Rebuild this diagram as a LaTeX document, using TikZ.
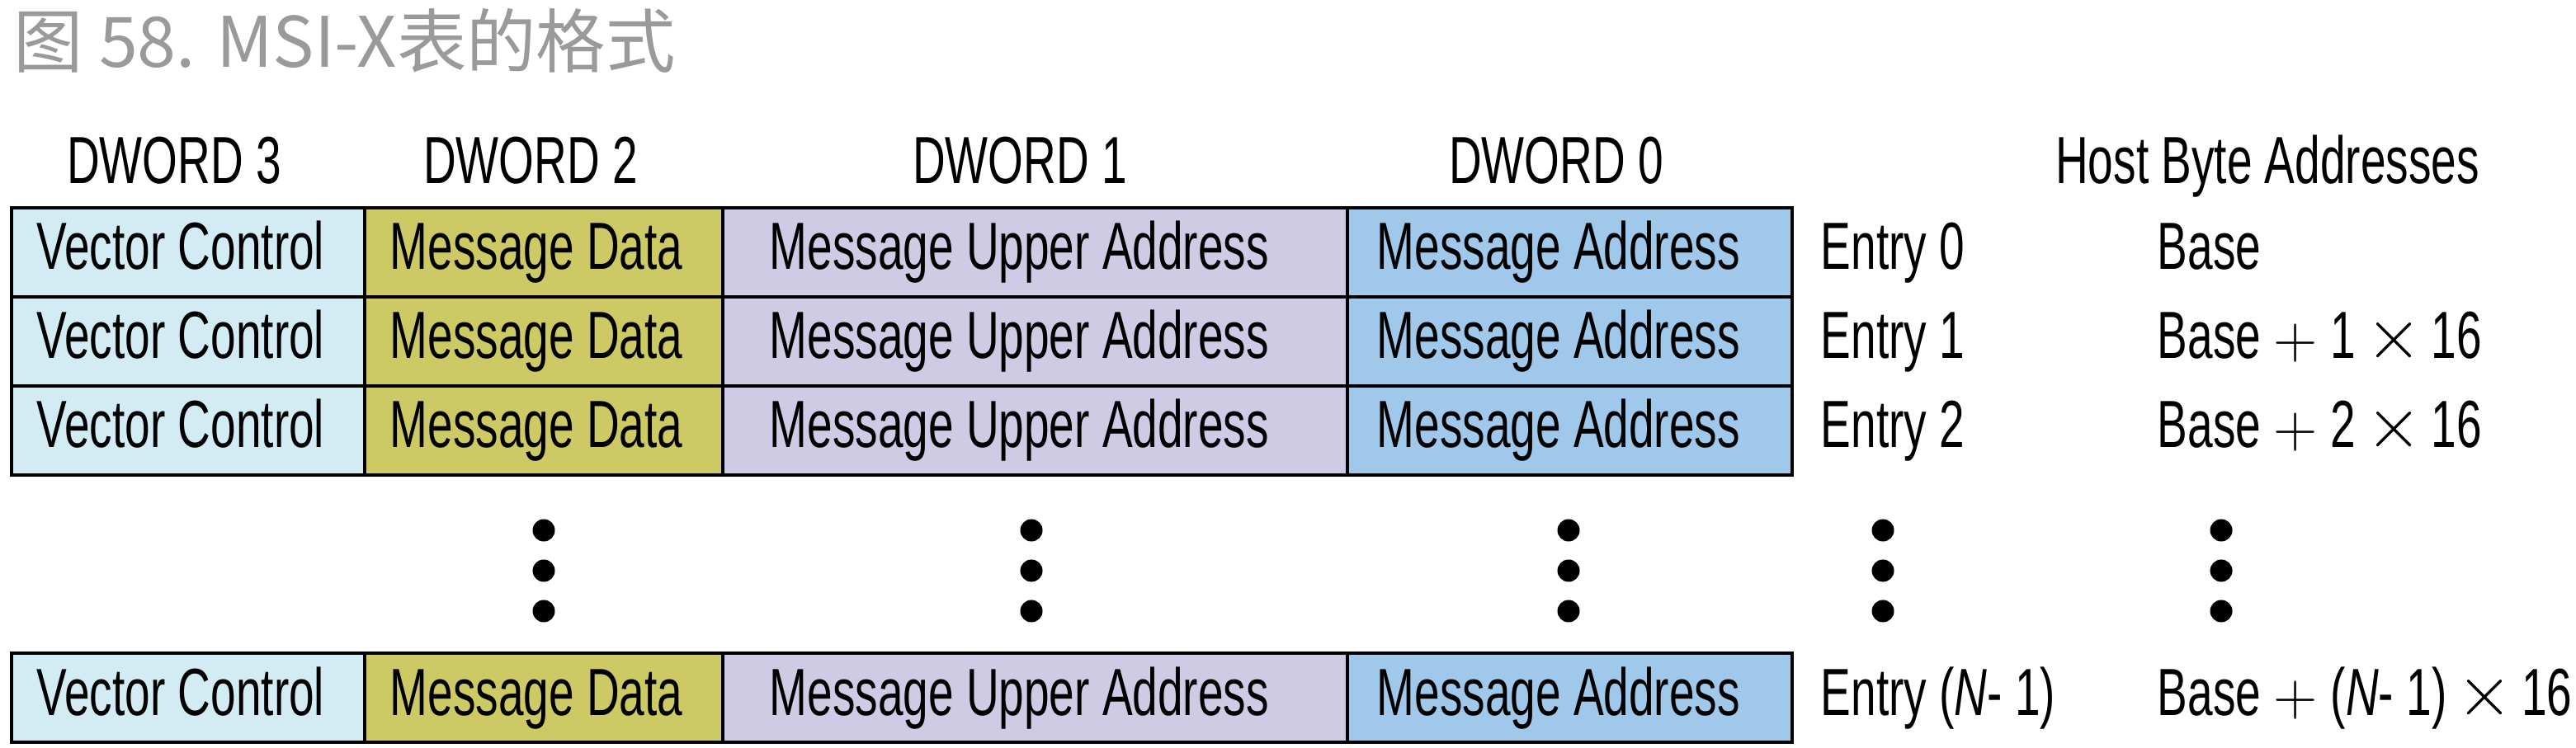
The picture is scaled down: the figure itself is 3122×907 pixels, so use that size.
\documentclass[tikz,border=0pt]{standalone}
\usepackage{fontspec}
\setmainfont[FakeStretch=0.68]{Liberation Sans}
\newfontfamily\cjk{Noto Sans CJK SC}
\newfontfamily\lmsym{Latin Modern Roman}
\definecolor{vcfill}{HTML}{D3ECF3}
\definecolor{mdfill}{HTML}{CDCA66}
\definecolor{mufill}{HTML}{CFCBE5}
\definecolor{mafill}{HTML}{9FC8EA}
\definecolor{titlegray}{HTML}{9A9A9A}
\newcommand\mypl{\hspace{4.5pt}{\lmsym\fontsize{21}{21}\selectfont +}\hspace{4.5pt}}
\newcommand\mytm{\hspace{3.5pt}{\fontsize{26}{26}\selectfont$\times$}\hspace{3pt}}
\begin{document}
\begin{tikzpicture}[x=0.01cm,y=-0.01cm,
  cell/.style={draw=black, line width=1pt, minimum height=1.08cm, inner sep=0pt},
  txt/.style={anchor=base west, inner sep=0pt, font=\fontsize{23}{27}\selectfont},
  hdr/.style={anchor=base, inner sep=0pt, font=\fontsize{23}{27}\selectfont},
  vdot/.style={fill=black}]
\useasboundingbox (0,0) rectangle (3122,907);
\node[anchor=base west, inner sep=0pt, text=titlegray, font=\cjk\fontsize{24}{28}\selectfont] (title) at (16,82) {图 58. MSI-X表的格式};
% headers
\node[hdr] (h3) at (211,223) {DWORD 3};
\node[hdr] (h2) at (643,223) {DWORD 2};
\node[hdr] (h1) at (1236,223) {DWORD 1};
\node[hdr] (h0) at (1886,223) {DWORD 0};
\node[hdr] (hb) at (2748,223) {Host Byte Addresses};
% rows
\foreach \i/\top/\ent/\bas in {1/252/{Entry 0}/{Base}, 2/360/{Entry 1}/{Base\mypl1\mytm16}, 3/468/{Entry 2}/{Base\mypl2\mytm16}, 4/792/{Entry (\textit{N}- 1)}/{Base\mypl(\textit{N}- 1)\mytm16}}{
  \node[cell, fill=vcfill, minimum width=4.28cm] (vc\i) at (228,{\top+54}) {};
  \node[cell, fill=mdfill, minimum width=4.34cm] (md\i) at (659,{\top+54}) {};
  \node[cell, fill=mufill, minimum width=7.57cm] (mu\i) at (1254.5,{\top+54}) {};
  \node[cell, fill=mafill, minimum width=5.39cm] (ma\i) at (1902.5,{\top+54}) {};
  \node[txt] (tvc\i) at (44,{\top+75}) {Vector Control};
  \node[txt] (tmd\i) at (472,{\top+75}) {Message Data};
  \node[txt] (tmu\i) at (932,{\top+75}) {Message Upper Address};
  \node[txt] (tma\i) at (1668,{\top+75}) {Message Address};
  \node[txt] (ent\i) at (2206,{\top+75}) {\ent};
  \node[txt] (bas\i) at (2614,{\top+75}) {\bas};
}
% ellipsis dots
\foreach \x in {659,1250,1901,2282,2692}{
  \foreach \y in {643,692,741}{
    \fill[vdot] (\x,\y) circle [radius=0.135cm];
  }
}
\end{tikzpicture}
\end{document}
